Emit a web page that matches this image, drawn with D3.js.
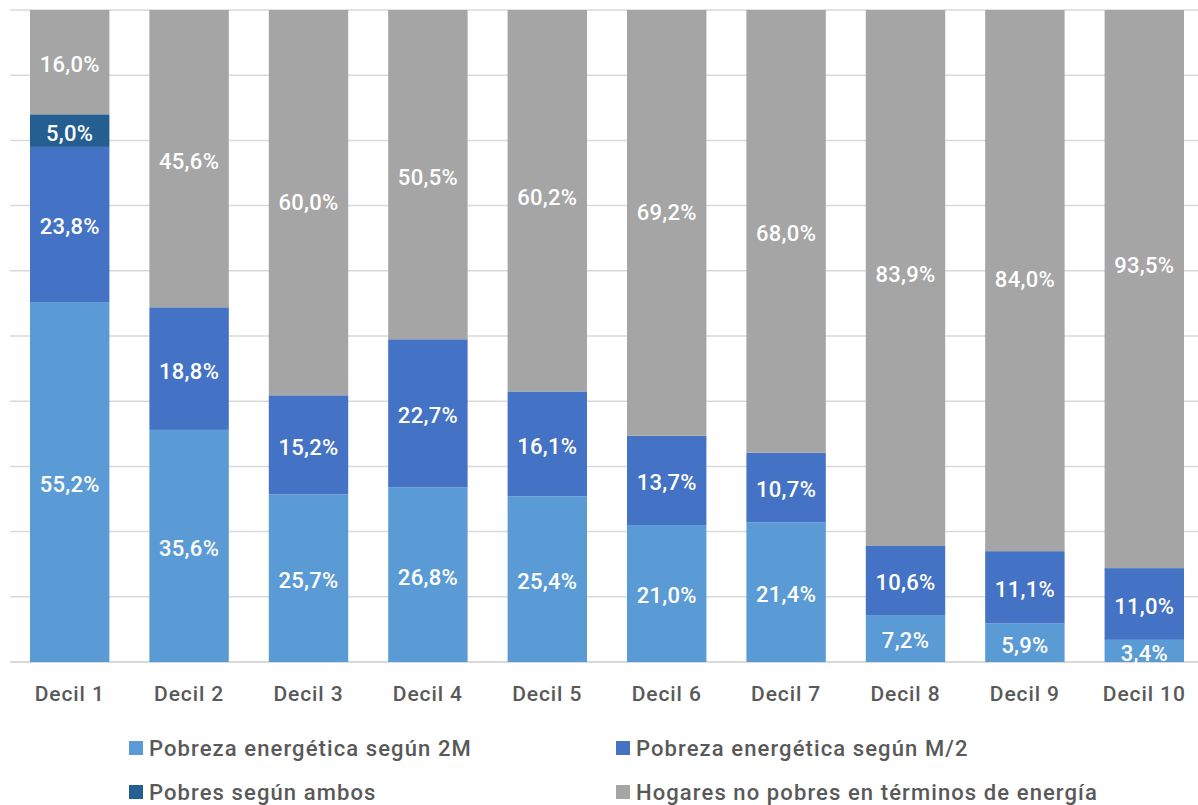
<!DOCTYPE html>
<html>
<head>
<meta charset="utf-8">
<script src="https://cdn.jsdelivr.net/npm/d3@7"></script>
<style>
  body { margin: 0; background: #fff; }
  svg text { font-family: Roboto, "DejaVu Sans", sans-serif; font-weight: 500; }
</style>
</head>
<body>
<div id="chart"></div>
<script>
const width = 1198;
const height = 805;

// data
const deciles = ["Decil 1", "Decil 2", "Decil 3", "Decil 4", "Decil 5",
                 "Decil 6", "Decil 7", "Decil 8", "Decil 9", "Decil 10"];
const pobreza2M   = [55.2, 35.6, 25.7, 26.8, 25.4, 21.0, 21.4, 7.2, 5.9, 3.4];
const pobrezaM2   = [23.8, 18.8, 15.2, 22.7, 16.1, 13.7, 10.7, 10.6, 11.1, 11.0];
const pobresAmbos = [5.0, 0, 0, 0, 0, 0, 0, 0, 0, 0];
const noPobres    = [16.0, 45.6, 60.0, 50.5, 60.2, 69.2, 68.0, 83.9, 84.0, 93.5];
const yTicks = [0, 10, 20, 30, 40, 50, 60, 70, 80, 90, 100];

const seriesNames = [
  "Pobreza energética según 2M",
  "Pobreza energética según M/2",
  "Pobres según ambos",
  "Hogares no pobres en términos de energía"
];
const colors = ["#5B9BD5", "#4472C4", "#255E91", "#A5A5A5"];

const rows = deciles.map((d, i) => ({
  decil: d,
  s0: pobreza2M[i],
  s1: pobrezaM2[i],
  s2: pobresAmbos[i],
  s3: noPobres[i]
}));

const keys = ["s0", "s1", "s2", "s3"];
const stacked = d3.stack().keys(keys)(rows);

const margin = { top: 10, left: 10, bottom: 143 };
const plotBottom = height - margin.bottom; // 662

const x = d3.scaleBand()
  .domain(deciles)
  .range([10, 1204])
  .paddingInner(0.335)
  .paddingOuter(0.1675);

// axis tops out at 100%, the grey series is clipped there (like the original)
const y = d3.scaleLinear()
  .domain([0, 100])
  .range([plotBottom, margin.top]);

const svg = d3.select("#chart")
  .append("svg")
  .attr("width", width)
  .attr("height", height);

svg.append("defs").append("clipPath")
  .attr("id", "plotclip")
  .append("rect")
  .attr("x", 0)
  .attr("y", y(100))
  .attr("width", width)
  .attr("height", y(0) - y(100));

// gridlines
svg.append("g")
  .selectAll("line")
  .data(yTicks)
  .join("line")
  .attr("x1", 10)
  .attr("x2", width)
  .attr("y1", d => y(d))
  .attr("y2", d => y(d))
  .attr("stroke", "#d9d9d9")
  .attr("stroke-width", d => d === 0 ? 2 : 1.5);

// bars
const bars = svg.append("g").attr("clip-path", "url(#plotclip)");
bars.selectAll("g")
  .data(stacked)
  .join("g")
  .attr("fill", (d, i) => colors[i])
  .selectAll("rect")
  .data(d => d)
  .join("rect")
  .attr("x", d => x(d.data.decil))
  .attr("width", x.bandwidth())
  .attr("y", d => y(d[1]))
  .attr("height", d => y(d[0]) - y(d[1]));

// value labels (centre of each full segment)
const fmt = v => v.toFixed(1).replace(".", ",") + "%";
svg.append("g")
  .selectAll("g")
  .data(stacked)
  .join("g")
  .selectAll("text")
  .data(d => d.filter(p => p[1] - p[0] > 0))
  .join("text")
  .attr("x", d => x(d.data.decil) + x.bandwidth() / 2)
  .attr("y", d => y((d[0] + d[1]) / 2))
  .attr("dy", "0.45em")
  .attr("text-anchor", "middle")
  .attr("fill", "#fff")
  .attr("font-size", 22)
  .attr("letter-spacing", 0.3)
  .text(d => fmt(d[1] - d[0]));

// x axis labels
svg.append("g")
  .selectAll("text")
  .data(deciles)
  .join("text")
  .attr("x", d => x(d) + x.bandwidth() / 2)
  .attr("y", 694)
  .attr("dy", "0.35em")
  .attr("text-anchor", "middle")
  .attr("fill", "#595959")
  .attr("font-size", 21)
  .attr("letter-spacing", 0.9)
  .text(d => d);

// legend
const legendPos = [[129, 748], [616, 748], [129, 792], [616, 792]];
const legend = svg.append("g")
  .selectAll("g")
  .data(seriesNames)
  .join("g")
  .attr("transform", (d, i) => `translate(${legendPos[i][0]},${legendPos[i][1]})`);

legend.append("rect")
  .attr("x", 0)
  .attr("y", -7)
  .attr("width", 14)
  .attr("height", 14)
  .attr("fill", (d, i) => colors[i]);

legend.append("text")
  .attr("x", 20)
  .attr("y", 0)
  .attr("dy", "0.35em")
  .attr("fill", "#595959")
  .attr("font-size", 22)
  .attr("letter-spacing", 1.1)
  .text(d => d);
</script>
</body>
</html>
